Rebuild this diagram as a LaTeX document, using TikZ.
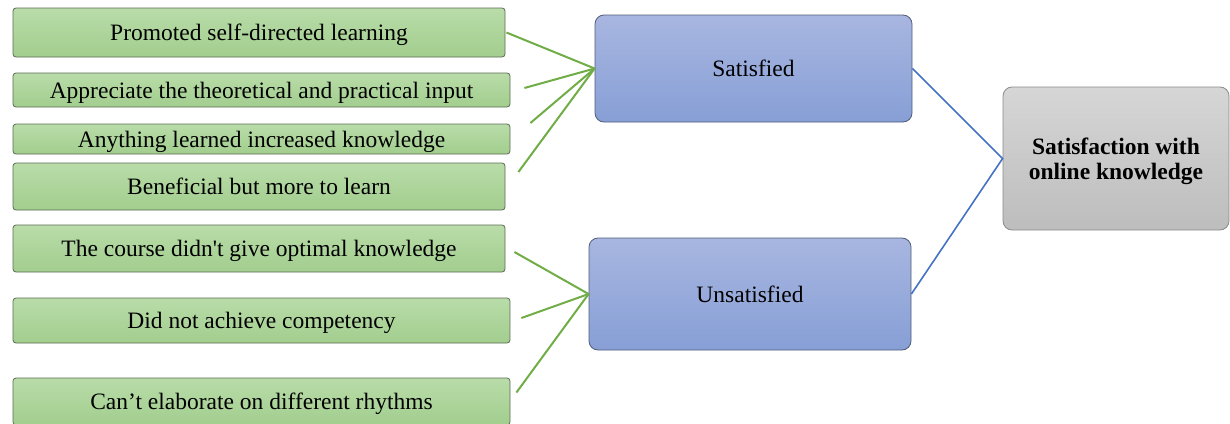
\documentclass[tikz,border=0pt]{standalone}
\usepackage{fontspec}
\newfontfamily\tnr{Liberation Serif}
\usetikzlibrary{calc}
\definecolor{gtop}{HTML}{B9DCA9}
\definecolor{gbot}{HTML}{A2CE8E}
\definecolor{gdraw}{HTML}{5C6B55}
\definecolor{btop}{HTML}{A8B6E0}
\definecolor{bbot}{HTML}{879FD6}
\definecolor{bdraw}{HTML}{4F5C78}
\definecolor{ktop}{HTML}{D6D6D6}
\definecolor{kbot}{HTML}{BDBDBD}
\definecolor{kdraw}{HTML}{8A8A8A}
\definecolor{gline}{HTML}{70AD47}
\definecolor{bline}{HTML}{4472C4}
\tikzset{
  greenbox/.style={draw=gdraw, line width=0.8pt, rounded corners=3pt, top color=gtop, bottom color=gbot,
    inner sep=0pt, text height=19pt, text depth=3pt, font=\tnr\fontsize{23.5}{28}\selectfont, text=black},
  bluebox/.style={draw=bdraw, line width=0.8pt, rounded corners=9pt, top color=btop, bottom color=bbot,
    inner sep=0pt, text height=19pt, text depth=3pt, font=\tnr\fontsize{23.5}{28}\selectfont, text=black},
  graybox/.style={draw=kdraw, line width=0.8pt, rounded corners=9pt, top color=ktop, bottom color=kbot,
    inner sep=0pt, font=\tnr\bfseries\fontsize{23.5}{25}\selectfont, text=black, align=center},
  gconn/.style={draw=gline, line width=2pt},
  bconn/.style={draw=bline, line width=1.6pt}
}
\begin{document}
\begin{tikzpicture}[x=1pt,y=-1pt]
\useasboundingbox (0,0) rectangle (1230,423);
\node[greenbox, minimum width=492pt, minimum height=49pt] (b1) at (259,32.5) {Promoted self-directed learning};
\node[greenbox, minimum width=497pt, minimum height=34pt] (b2) at (261.5,90) {Appreciate the theoretical and practical input};
\node[greenbox, minimum width=497pt, minimum height=30pt] (b3) at (261.5,139) {Anything learned increased knowledge};
\node[greenbox, minimum width=492pt, minimum height=47pt] (b4) at (259,186.5) {Beneficial but more to learn};
\node[greenbox, minimum width=492pt, minimum height=47pt] (b5) at (259,248.5) {The course didn\textquotesingle t give optimal knowledge};
\node[greenbox, minimum width=497pt, minimum height=45pt] (b6) at (261.5,320.5) {Did not achieve competency};
\node[greenbox, minimum width=497pt, minimum height=47pt] (b7) at (261.5,401.5) {Can’t elaborate on different rhythms};
\node[bluebox, minimum width=317pt, minimum height=107pt] (sat) at (753.5,68.5) {Satisfied};
\node[bluebox, minimum width=322pt, minimum height=112pt] (uns) at (750,294) {Unsatisfied};
\node[graybox, minimum width=226pt, minimum height=143pt] (tot) at (1116,158.5) {\rule{0pt}{23pt}Satisfaction with\\online knowledge};
\draw[gconn] ([shift={(1,0)}]b1.east) -- (sat.west);
\draw[gconn] ([shift={(14,-2)}]b2.east) -- (sat.west);
\draw[gconn] ([shift={(20,-16)}]b3.east) -- (sat.west);
\draw[gconn] ([shift={(13,-14.5)}]b4.east) -- (sat.west);
\draw[gconn] ([shift={(9,3.5)}]b5.east) -- (uns.west);
\draw[gconn] ([shift={(11,-2.5)}]b6.east) -- (uns.west);
\draw[gconn] ([shift={(6,-9)}]b7.east) -- (uns.west);
\draw[bconn] (sat.east) -- (tot.west) -- (uns.east);
\end{tikzpicture}
\end{document}
